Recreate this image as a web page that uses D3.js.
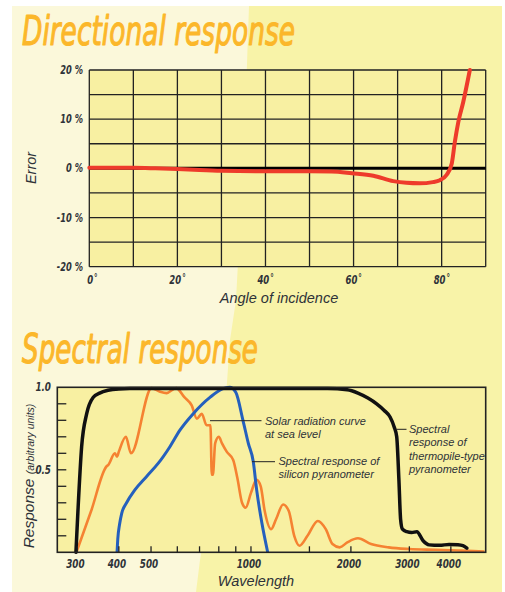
<!DOCTYPE html>
<html><head><meta charset="utf-8">
<script src="https://cdn.jsdelivr.net/npm/d3@7"></script>
<style>
html,body{margin:0;padding:0;background:#fff;}
svg{display:block;}
</style></head>
<body>
<script>
// ---------- DATA ----------
// Directional response
const angleTicks = [0, 20, 40, 60, 80];
const errorTicks = [-20, -10, 0, 10, 20];
const dirAngle = [0, 10, 15, 20, 25, 30, 40, 50, 55, 59.6, 64.5, 69, 72, 75, 78, 79.6, 81.1, 82.3, 83.0, 83.8, 84.9, 86.4];
const dirError = [0.1, 0.1, 0.0, -0.15, -0.35, -0.5, -0.6, -0.6, -0.65, -1.0, -1.5, -2.6, -2.95, -3.05, -2.8, -2.4, -1.35, 1.0, 5.4, 9.5, 13.5, 20];

// Spectral response
const wlTicks = [300, 400, 500, 600, 700, 800, 900, 1000, 1500, 2000, 3000, 4000];
const wlLabels = [300, 400, 500, 1000, 2000, 3000, 4000];
const respLabels = [0.5, 1.0];

const thermoWl = [297, 301, 309, 320, 335, 350, 371, 400, 432, 600, 1000, 1700, 1950, 2100, 2250, 2391, 2520, 2624, 2700, 2748, 2790, 2823, 2860, 2946, 3050, 3160, 3300, 3440, 3700, 3950, 4200, 4350, 4470];
const thermoR  = [0, 0.24, 0.64, 0.84, 0.94, 0.965, 0.982, 0.99, 0.992, 0.992, 0.992, 0.992, 0.985, 0.965, 0.935, 0.90, 0.86, 0.82, 0.76, 0.70, 0.44, 0.2, 0.14, 0.125, 0.12, 0.125, 0.07, 0.045, 0.042, 0.048, 0.046, 0.04, 0.025];

const solarWl = [298, 330, 367, 372, 389, 395, 400, 420, 435, 502, 530, 557, 595, 630, 663, 687, 711, 735, 755, 762, 768, 780, 800, 818, 845, 884, 910, 940, 964, 1000, 1040, 1070, 1100, 1150, 1190, 1250, 1300, 1350, 1400, 1480, 1590, 1680, 1760, 1850, 1950, 2100, 2300, 2600, 3000, 3600, 4300, 5050];
const solarR  = [0, 0.25, 0.52, 0.53, 0.60, 0.58, 0.61, 0.70, 0.60, 0.995, 0.975, 0.965, 0.995, 0.94, 0.89, 0.81, 0.84, 0.77, 0.77, 0.47, 0.47, 0.66, 0.70, 0.66, 0.61, 0.56, 0.45, 0.30, 0.27, 0.36, 0.44, 0.40, 0.25, 0.14, 0.20, 0.29, 0.25, 0.10, 0.04, 0.10, 0.19, 0.14, 0.05, 0.03, 0.06, 0.085, 0.05, 0.03, 0.02, 0.015, 0.01, 0.005];

const siliconWl = [395, 397, 402, 408, 422, 447, 485, 526, 570, 611, 670, 754, 820, 863, 900, 946, 982, 1016, 1040, 1078, 1123];
const siliconR  = [0, 0.08, 0.17, 0.236, 0.30, 0.378, 0.46, 0.54, 0.64, 0.74, 0.84, 0.94, 0.99, 1.0, 0.97, 0.80, 0.66, 0.55, 0.38, 0.18, 0.0];

// ---------- DRAW ----------
const W = 505, H = 592;
const svg = d3.select("body").append("svg").attr("width", W).attr("height", H);

// background panels
svg.append("rect").attr("x", 12).attr("y", 6).attr("width", 490).attr("height", H - 6).attr("fill", "#fbf8da");
svg.append("path")
  .attr("d", "M249,6 L502,6 L502,592 L196,592 L200,560 L225,410 L230,340 L236,300 L244,150 Z")
  .attr("fill", "#f8f3a8");

const titleFont = "'Liberation Sans Narrow','DejaVu Sans Condensed','Arial Narrow',sans-serif";
const tickFont = "'Liberation Sans Narrow','DejaVu Sans Condensed',sans-serif";
const labelFont = "'Liberation Sans',Arial,sans-serif";
const titleColor = "#fbb72a";
const inkColor = "#2e3238";

function squeeze(sel, f) {
  sel.each(function () {
    const w = this.getComputedTextLength();
    d3.select(this).attr("textLength", w * f).attr("lengthAdjust", "spacingAndGlyphs");
  });
}

function title(txt, x, y, len) {
  svg.append("text").attr("x", x).attr("y", y).text(txt)
    .attr("font-family", titleFont).attr("font-style", "italic")
    .attr("font-size", 40).attr("fill", titleColor)
    .attr("stroke", titleColor).attr("stroke-width", 1.1).attr("stroke-linejoin", "round")
    .attr("textLength", len).attr("lengthAdjust", "spacingAndGlyphs");
}
title("Directional response", 22, 45, 273);
title("Spectral response", 22, 363, 236);

// ===== Directional chart =====
const dx = d3.scaleLinear().domain([0, 90]).range([89.3, 485.7]);
const dy = d3.scaleLinear().domain([-20, 20]).range([266.7, 70]);
const g1 = svg.append("g");
g1.append("rect").attr("x", dx(0)).attr("y", dy(20)).attr("width", dx(90) - dx(0)).attr("height", dy(-20) - dy(20)).attr("fill", "#f8f0a2");
// grid
g1.selectAll("line.v").data(d3.range(0, 91, 10)).join("line")
  .attr("x1", d => dx(d)).attr("x2", d => dx(d)).attr("y1", dy(20)).attr("y2", dy(-20))
  .attr("stroke", "#222").attr("stroke-width", 1.3);
g1.selectAll("line.h").data(d3.range(-20, 21, 5)).join("line")
  .attr("x1", dx(0)).attr("x2", dx(90)).attr("y1", d => dy(d)).attr("y2", d => dy(d))
  .attr("stroke", "#222").attr("stroke-width", 1.3);
g1.append("line").attr("x1", dx(0)).attr("x2", dx(90)).attr("y1", dy(0)).attr("y2", dy(0))
  .attr("stroke", "#000").attr("stroke-width", 3);
// curve
const dirLine = d3.line().x(d => dx(d[0])).y(d => dy(d[1])).curve(d3.curveMonotoneX);
g1.append("path").datum(dirAngle.map((a, i) => [a, dirError[i]]))
  .attr("d", dirLine).attr("fill", "none").attr("stroke", "#ee3b2b").attr("stroke-width", 4)
  .attr("stroke-linecap", "round");
// ticks labels
const yt1 = g1.selectAll("text.yt").data(errorTicks).join("text")
  .attr("x", 83).attr("y", d => dy(d) + 4).attr("text-anchor", "end")
  .attr("font-family", tickFont).attr("font-style", "italic").attr("font-weight", "bold")
  .attr("font-size", 11.5).attr("fill", inkColor).text(d => d + " %");
squeeze(yt1, 0.8);
const xt1 = g1.selectAll("text.xt").data(angleTicks).join("text")
  .attr("x", d => d === 0 ? dx(d) + 3 : dx(d)).attr("y", 283.5).attr("text-anchor", "middle")
  .attr("font-family", tickFont).attr("font-style", "italic").attr("font-weight", "bold")
  .attr("font-size", 11.5).attr("fill", inkColor).text(d => d + "˚");
squeeze(xt1, 0.82);
g1.append("text").attr("transform", "translate(36,168) rotate(-90)").attr("text-anchor", "middle")
  .attr("font-family", labelFont).attr("font-style", "italic").attr("font-size", 14.5)
  .attr("fill", inkColor).text("Error");
g1.append("text").attr("x", 279).attr("y", 303).attr("text-anchor", "middle")
  .attr("font-family", labelFont).attr("font-style", "italic").attr("font-size", 14.5)
  .attr("fill", inkColor).text("Angle of incidence");

// ===== Spectral chart =====
const sx = d3.scaleLog().domain([261, 5094]).range([57.3, 485.7]);
const sy = d3.scaleLinear().domain([0, 1]).range([552.3, 387.3]);
const g2 = svg.append("g");
g2.append("rect").attr("x", sx.range()[0]).attr("y", sy(1)).attr("width", sx.range()[1] - sx.range()[0]).attr("height", sy(0) - sy(1)).attr("fill", "#f8f0a2");

const sLine = d3.line().x(d => sx(d[0])).y(d => sy(d[1])).curve(d3.curveMonotoneX);
g2.append("path").datum(solarWl.map((w, i) => [w, solarR[i]]))
  .attr("d", sLine).attr("fill", "none").attr("stroke", "#f58232").attr("stroke-width", 2.6).attr("stroke-linejoin", "round");
g2.append("path").datum(siliconWl.map((w, i) => [w, siliconR[i]]))
  .attr("d", sLine).attr("fill", "none").attr("stroke", "#2560bd").attr("stroke-width", 3);
g2.append("path").datum(thermoWl.map((w, i) => [w, thermoR[i]]))
  .attr("d", sLine).attr("fill", "none").attr("stroke", "#111").attr("stroke-width", 3.5).attr("stroke-linecap", "round");

// frame
g2.append("rect").attr("x", sx.range()[0]).attr("y", sy(1)).attr("width", sx.range()[1] - sx.range()[0]).attr("height", sy(0) - sy(1))
  .attr("fill", "none").attr("stroke", "#222").attr("stroke-width", 1.6);
// y ticks inside
g2.selectAll("line.yt").data(d3.range(1, 10).map(i => i / 10)).join("line")
  .attr("x1", sx.range()[0]).attr("x2", sx.range()[0] + 9).attr("y1", d => sy(d)).attr("y2", d => sy(d))
  .attr("stroke", "#222").attr("stroke-width", 1.3);
// x ticks inside
g2.selectAll("line.xt").data(wlTicks).join("line")
  .attr("x1", d => sx(d)).attr("x2", d => sx(d)).attr("y1", sy(0)).attr("y2", sy(0) - 6)
  .attr("stroke", "#222").attr("stroke-width", 1.3);
const xl2 = g2.selectAll("text.xl").data(wlLabels).join("text")
  .attr("x", d => sx(d) - 2).attr("y", 568).attr("text-anchor", "middle")
  .attr("font-family", tickFont).attr("font-style", "italic").attr("font-weight", "bold")
  .attr("font-size", 11.5).attr("fill", inkColor).text(d => d);
squeeze(xl2, 0.85);
const yl2 = g2.selectAll("text.yl").data(respLabels).join("text")
  .attr("x", 51).attr("y", d => sy(d) + 4).attr("text-anchor", "end")
  .attr("font-family", tickFont).attr("font-style", "italic").attr("font-weight", "bold")
  .attr("font-size", 11.5).attr("fill", inkColor).text(d => d.toFixed(1));
squeeze(yl2, 0.85);

const yl = g2.append("text").attr("transform", "translate(34,476) rotate(-90)").attr("text-anchor", "middle")
  .attr("font-family", labelFont).attr("font-style", "italic").attr("fill", inkColor);
yl.append("tspan").attr("font-size", 15.5).text("Response ");
yl.append("tspan").attr("font-size", 10.5).text("(arbitrary units)");
g2.append("text").attr("x", 256).attr("y", 586).attr("text-anchor", "middle")
  .attr("font-family", labelFont).attr("font-style", "italic").attr("font-size", 14.5)
  .attr("fill", inkColor).text("Wavelength");

// annotations
function note(lines, x, y0, step, lx1, lx2, ly) {
  g2.append("line").attr("x1", lx1).attr("x2", lx2).attr("y1", ly).attr("y2", ly).attr("stroke", "#222").attr("stroke-width", 1);
  lines.forEach((t, i) => g2.append("text").attr("x", x).attr("y", y0 + i * step)
    .attr("font-family", labelFont).attr("font-style", "italic").attr("font-size", 11)
    .attr("fill", inkColor).text(t));
}
note(["Solar radiation curve", "at sea level"], 265, 425, 12.5, 210, 261.5, 420.7);
note(["Spectral response of", "silicon pyranometer"], 278.5, 465, 13.3, 252, 275, 461.7);
note(["Spectral", "response of", "thermopile-type", "pyranometer"], 409, 433.3, 13.1, 397, 406.5, 429.3);
</script>
</body></html>
